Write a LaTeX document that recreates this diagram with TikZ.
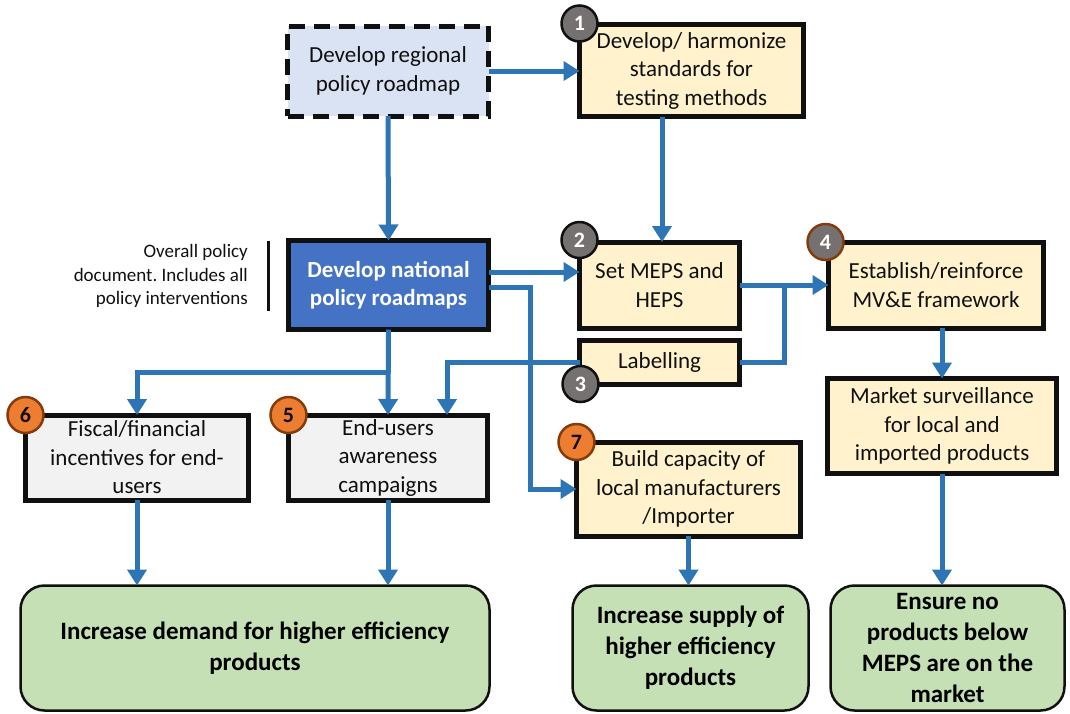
\documentclass[tikz,border=0pt]{standalone}
\usepackage{fontspec}
\setmainfont{Carlito}
\usetikzlibrary{arrows.meta,calc}
\frenchspacing
\definecolor{flowblue}{HTML}{2E75B6}
\definecolor{stepfill}{HTML}{FFF2CC}
\definecolor{regfill}{HTML}{DAE3F3}
\definecolor{natfill}{HTML}{4472C4}
\definecolor{userfill}{HTML}{F2F2F2}
\definecolor{goalfill}{HTML}{C5E0B4}
\definecolor{badgegray}{HTML}{767171}
\definecolor{badgeorange}{HTML}{ED7D31}
\definecolor{badgebrown}{HTML}{843C0C}
\definecolor{inkdark}{HTML}{101010}
\tikzset{
  box/.style={draw=inkdark, line width=5pt, align=center, inner sep=2pt,
    outer sep=0pt, text=inkdark,
    font=\fontsize{23}{28.5}\selectfont},
  stepbox/.style={box, fill=stepfill},
  userbox/.style={box, fill=userfill},
  goalbox/.style={draw=inkdark, line width=2.5pt, fill=goalfill, rounded corners=24pt,
    align=center, outer sep=0pt, text=black,
    font=\fontsize{25}{31}\selectfont\bfseries},
  badge/.style={circle, minimum size=36pt, inner sep=0pt, line width=2.5pt,
    font=\fontsize{22}{22}\selectfont\bfseries},
  graybadge/.style={badge, draw=inkdark, fill=badgegray, text=white},
  brownbadge/.style={badge, draw=badgebrown, fill=badgegray, text=white},
  orangebadge/.style={badge, draw=badgebrown, fill=badgeorange, text=inkdark},
  flow/.style={draw=flowblue, line width=5pt},
  arr/.style={flow, -{Triangle[length=16pt,width=19pt]}},
}
\begin{document}
\begin{tikzpicture}[x=1pt,y=-1pt]
\useasboundingbox (0,0) rectangle (1070,713);

% policy roadmaps
\node[box, fill=regfill, dash pattern=on 16pt off 9pt,
  minimum width=201pt, minimum height=90pt] (reg) at (388,71)
  {Develop regional\\policy roadmap};
\node[box, fill=natfill, text=white, font=\fontsize{23}{28.5}\selectfont\bfseries,
  minimum width=200pt, minimum height=89pt] (nat) at (388.5,285)
  {Develop national\\policy roadmaps};
\node[align=right, anchor=east, inner sep=0pt, text=inkdark,
  font=\fontsize{19}{23.5}\selectfont] (note) at (248,276)
  {Overall policy\\document. Includes all\\policy interventions};
\draw[inkdark, line width=3pt] ([xshift=20pt,yshift=3pt]note.north east) -- ([xshift=20pt,yshift=-3pt]note.south east);

% standards and product regulation
\node[stepbox, minimum width=224pt, minimum height=92pt] (s1) at (691.5,70.5)
  {Develop/ harmonize\\standards for\\testing methods};
\node[stepbox, minimum width=160pt, minimum height=86pt] (s2) at (659.5,285)
  {Set MEPS and\\HEPS};
\node[stepbox, minimum width=160pt, minimum height=44pt] (lab) at (659.5,362)
  {Labelling};
\node[stepbox, minimum width=215pt, minimum height=86pt] (s4) at (936,285)
  {Establish/reinforce\\MV\&E framework};
\node[stepbox, minimum width=229pt, minimum height=95pt] (ms) at (942,426)
  {Market surveillance\\for local and\\imported products};
\node[stepbox, minimum width=224pt, minimum height=94pt] (s7) at (688.5,489)
  {Build capacity of\\local manufacturers\\/Importer};

% end-user measures
\node[userbox, minimum width=223pt, minimum height=85pt] (s6) at (137,457.5)
  {Fiscal/financial\\incentives for end-\\users};
\node[userbox, minimum width=199pt, minimum height=85pt] (s5) at (388,457.5)
  {End-users\\awareness\\campaigns};

% outcomes
\node[goalbox, minimum width=469pt, minimum height=125pt] (dem) at (255,648)
  {Increase demand for higher efficiency\\products};
\node[goalbox, minimum width=236pt, minimum height=125pt] (sup) at (690.5,648)
  {Increase supply of\\higher efficiency\\products};
\node[goalbox, minimum width=234pt, minimum height=125pt] (ens) at (947.5,648)
  {Ensure no\\products below\\MEPS are on the\\market};

% connectors
\draw[arr] (reg.east) -- (reg.east -| s1.west);
\draw[arr] (reg.south) -- (nat.north);
\draw[arr] ([xshift=2.5pt]s1.south -| s2.north) -- ([xshift=2.5pt]s2.north);
\draw[arr] ([yshift=13pt]nat.east) -- ([yshift=13pt]nat.east -| s2.west);
\draw[arr] ([yshift=-2pt]nat.east) -- ++(42,0) |- (s7.west);
\draw[arr] (s2.east) -- (s4.west);
\coordinate (join) at ($(s2.east)!0.5!(s4.west)$);
\draw[flow] (lab.east) -| (join);
\draw[arr] (lab.west) -| ([xshift=59pt]s5.north);
\draw[arr] (ms.north |- s4.south) -- (ms.north);
\draw[arr] (ms.south) -- (ms.south |- ens.north);
\draw[arr] (nat.south) -- (s5.north);
\coordinate (branch) at ($(nat.south)!0.5!(s5.north)$);
\draw[arr] (branch) -| (s6.north);
\draw[arr] (s6.south) -- (s6.south |- dem.north);
\draw[arr] (s5.south) -- (s5.south |- dem.north);
\draw[arr] (s7.south) -- (s7.south |- sup.north);

% step numbers
\node[graybadge] (b1) at ([shift={(0pt,1pt)}]s1.north west) {1};
\node[graybadge] (b2) at ([shift={(0pt,2pt)}]s2.north west) {2};
\node[graybadge] (b3) at ([shift={(1pt,0pt)}]lab.south west) {3};
\node[brownbadge] (b4) at ([shift={(-3pt,0pt)}]s4.north west) {4};
\node[orangebadge] (b5) at (s5.north west) {5};
\node[orangebadge] (b6) at (s6.north west) {6};
\node[orangebadge] (b7) at (s7.north west) {7};
\end{tikzpicture}
\end{document}
